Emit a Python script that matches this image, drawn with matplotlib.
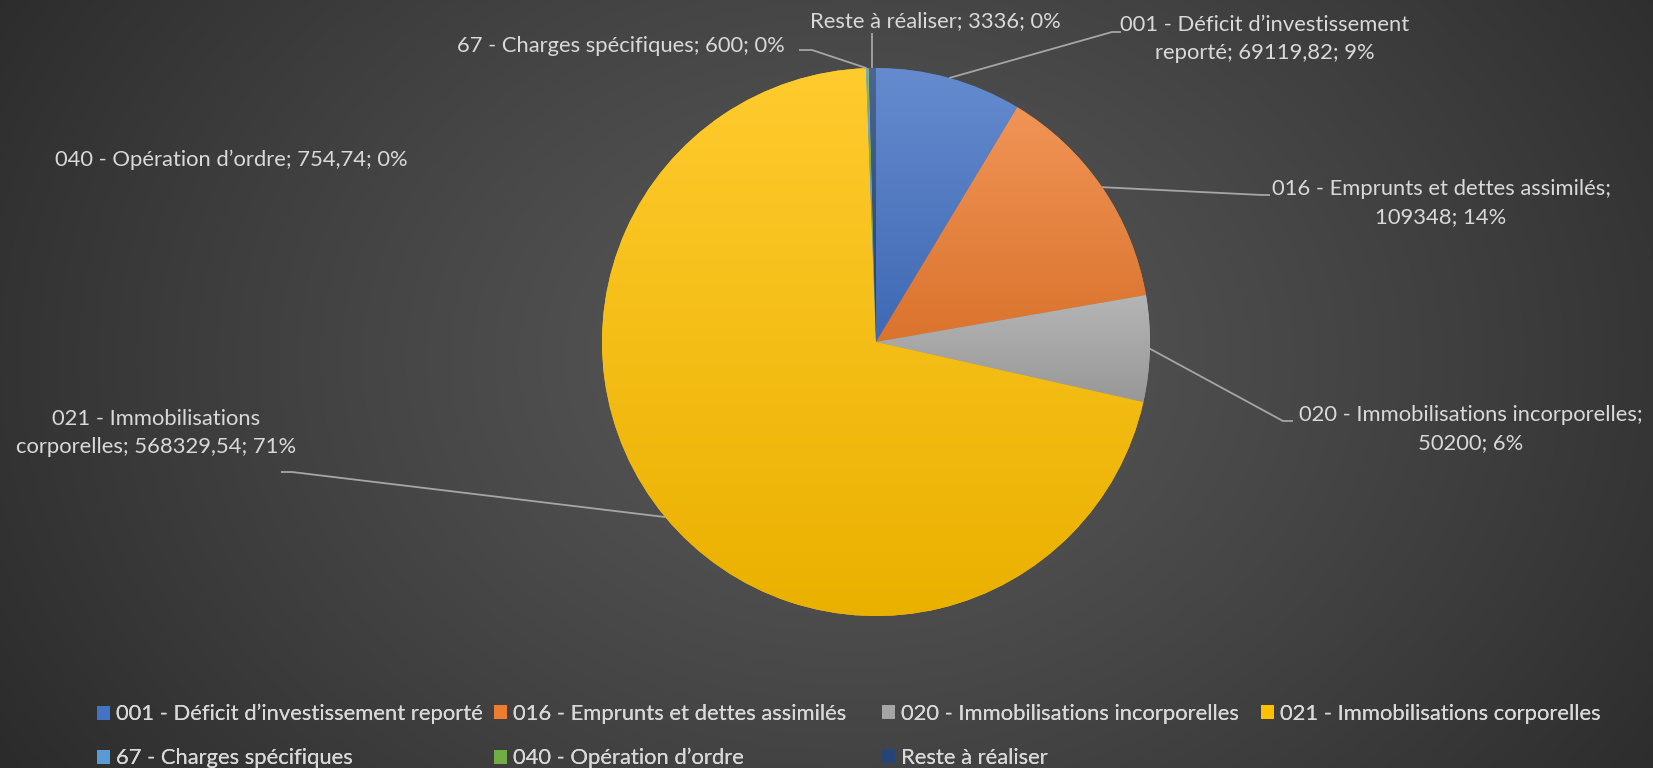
import numpy as np
import matplotlib
matplotlib.use('Agg')
import matplotlib.pyplot as plt
from matplotlib.patches import Patch
from matplotlib.colors import to_rgb

plt.rcParams['font.family'] = ['Lato', 'DejaVu Sans']

# Data
categories = ['001 - Déficit d’investissement reporté',
              '016 - Emprunts et dettes assimilés',
              '020 - Immobilisations incorporelles',
              '021 - Immobilisations corporelles',
              '67 - Charges spécifiques',
              '040 - Opération d’ordre',
              'Reste à réaliser']
values = [69119.82, 109348, 50200, 568329.54, 600, 754.74, 3336]
colors = ['#4472C4', '#ED7D31', '#A5A5A5', '#FFC000', '#5B9BD5', '#70AD47', '#264478']

W, H = 1653, 768
fig = plt.figure(figsize=(W / 100, H / 100), dpi=100)
ax = fig.add_axes([0, 0, 1, 1])

# background: radial gradient
yy, xx = np.mgrid[0:H, 0:W]
r = np.hypot(xx - 850, (yy - (H - 360)) * 1.3)
t = np.clip(r / 1000.0, 0, 1) ** 1.2
c_in, c_out = np.array(to_rgb('#585858')), np.array(to_rgb('#2b2b2b'))
bg = c_in[None, None, :] * (1 - t[..., None]) + c_out[None, None, :] * t[..., None]
ax.imshow(bg, extent=(0, W, 0, H), origin='lower', zorder=0, aspect='auto')

# pie
cx, cy, R = 876, H - 342, 274
wedges, _ = ax.pie(values, colors=colors, startangle=90, counterclock=False,
                   center=(cx, cy), radius=R, frame=True,
                   wedgeprops=dict(linewidth=0, zorder=2))
ax.set_xlim(0, W)
ax.set_ylim(0, H)
ax.axis('off')


def mix(c, o, a):
    c = np.array(to_rgb(c))
    return c * (1 - a) + np.array(o) * a


# vertical gradient per slice
for w, c in zip(wedges, colors):
    th = np.radians(np.linspace(w.theta1, w.theta2, 200))
    ys = np.concatenate([[cy], cy + R * np.sin(th)])
    y0, y1 = ys.min(), ys.max()
    top = mix(c, (1, 1, 1), 0.18)
    bot = mix(c, (0, 0, 0), 0.08)
    g = np.linspace(0, 1, 256)[:, None, None]
    img = bot[None, None, :] * (1 - g) + top[None, None, :] * g
    im = ax.imshow(img, extent=(cx - R, cx + R, y0, y1), origin='lower',
                   aspect='auto', zorder=3)
    im.set_clip_path(w)

total = sum(values)


def fmt(v):
    return ('%.2f' % v).rstrip('0').rstrip('.').replace('.', ',')


labels = ['%s; %s; %d%%' % (c, fmt(v), round(v / total * 100))
          for c, v in zip(categories, values)]
labels[0] = labels[0].replace('d’investissement ', 'd’investissement\n')
labels[1] = labels[1].replace('assimilés; ', 'assimilés;\n')
labels[2] = labels[2].replace('incorporelles; ', 'incorporelles;\n')
labels[3] = labels[3].replace('Immobilisations ', 'Immobilisations\n')

# label placement (x, y from top, ha), elbow and end of the leader line
place = [
    ((1265, 39), 'center', [(1112, 32), (1121, 32)]),
    ((1441, 203), 'center', [(1262, 195), (1270, 195)]),
    ((1471, 429), 'center', [(1283, 421), (1293, 421)]),
    ((156, 433), 'center', [(292, 472), (281, 472)]),
    ((785, 46), 'right', [(812, 50), (799, 50)]),
    ((55, 160), 'left', None),
    ((935, 21), 'center', [(871, 33)]),
]

text_color = '#D9D9D9'
line_color = '#A6A6A6'
fs = 15.8
for w, lab, (pos, ha, pts) in zip(wedges, labels, place):
    mid = np.radians((w.theta1 + w.theta2) / 2)
    sx, sy = cx + R * np.cos(mid), cy + R * np.sin(mid)
    if pts is not None:
        if len(pts) == 1:
            px = [sx, sx]
            py = [sy, H - pts[0][1]]
        else:
            px = [sx] + [p[0] for p in pts]
            py = [sy] + [H - p[1] for p in pts]
        ax.plot(px, py, color=line_color, lw=1.3, zorder=4, solid_capstyle='butt')
    ax.text(pos[0], H - pos[1], lab, ha=ha, va='center', color=text_color,
            fontsize=fs, linespacing=1.55, zorder=5, multialignment='center')

# legend: four columns filled row by row
handles = [Patch(facecolor=c, edgecolor='none') for c in colors]
col_x = [97, 494, 882, 1261]
ncol = 4
for j, x in enumerate(col_x):
    idx = list(range(j, len(categories), ncol))
    leg = fig.legend([handles[i] for i in idx], [categories[i] for i in idx],
                     loc='upper left', bbox_to_anchor=(x / W, 1 - 704 / H),
                     frameon=False, fontsize=fs, labelcolor=text_color,
                     handlelength=0.6, handleheight=0.6, handletextpad=0.25,
                     labelspacing=1.1, borderpad=0, borderaxespad=0)
    fig.add_artist(leg)

fig.savefig('out.png', dpi=100, facecolor='#333333')
